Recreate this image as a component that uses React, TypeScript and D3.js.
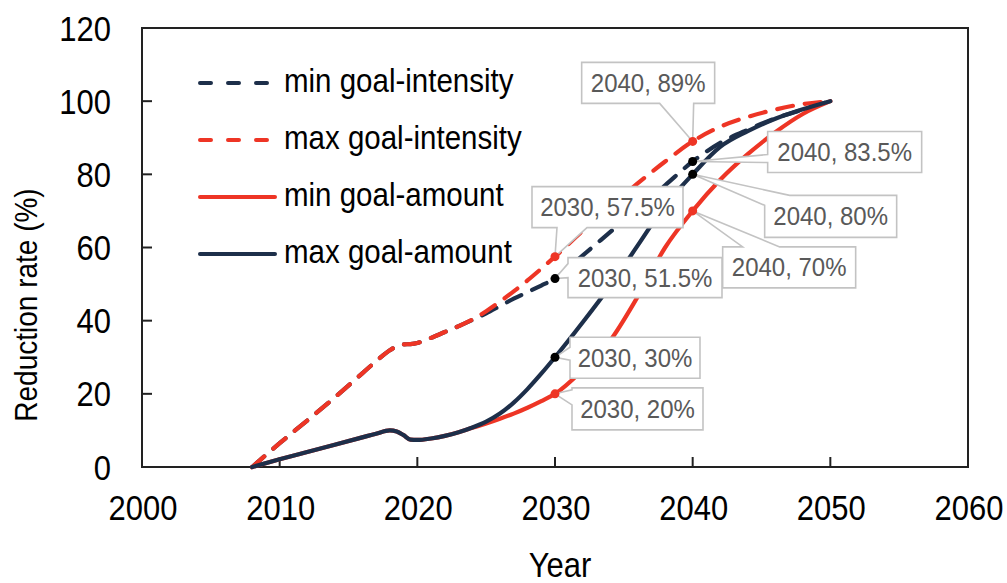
import React from 'react';
import * as d3 from 'd3';

// ---------------- data ----------------
const years = [2008, 2010, 2012, 2014, 2016, 2017, 2018, 2018.5, 2019, 2019.5, 2020, 2021, 2022, 2023, 2024, 2025, 2026, 2027, 2028, 2029, 2030, 2032, 2034, 2036, 2038, 2040, 2042, 2044, 2046, 2048, 2050];
const minGoalIntensity = [0, 6.5, 12.7, 19, 25.6, 28.9, 31.9, 33, 33.5, 33.6, 33.9, 35.3, 36.9, 38.5, 40.2, 42, 44, 46, 47.8, 49.6, 51.5, 57.8, 64.2, 70.6, 77, 83.5, 88.6, 92.2, 95.3, 97.7, 100];
const maxGoalIntensity = [0, 6.5, 12.7, 19, 25.6, 28.9, 31.9, 33, 33.5, 33.6, 33.9, 35.3, 36.9, 38.5, 40.3, 42.6, 45.2, 48, 51, 54.2, 57.5, 64.5, 71, 77.5, 83.5, 89, 93, 95.7, 97.7, 99.2, 100];
const minGoalAmount = [0, 2.1, 4.1, 6.1, 8.1, 9.1, 10, 9.7, 8.7, 7.5, 7.4, 7.8, 8.5, 9.5, 10.7, 11.9, 13.2, 14.6, 16.2, 18, 20, 26.5, 34.5, 46.5, 60, 70, 78.5, 85.5, 91.5, 96.5, 100];
const maxGoalAmount = [0, 2.1, 4.1, 6.1, 8.1, 9.1, 10, 9.7, 8.7, 7.5, 7.4, 7.8, 8.5, 9.5, 10.8, 12.4, 14.6, 17.6, 21.3, 25.5, 30, 39.5, 49.5, 60.5, 71.5, 80, 87.5, 91.8, 95.2, 97.8, 100];

const seriesNames = ['min goal-intensity', 'max goal-intensity', 'min goal-amount', 'max goal-amount'];
const xTicks = [2000, 2010, 2020, 2030, 2040, 2050, 2060];
const yTicks = [0, 20, 40, 60, 80, 100, 120];

const calloutYears = [2040, 2040, 2040, 2040, 2030, 2030, 2030, 2030];
const calloutValues = [89, 83.5, 80, 70, 57.5, 51.5, 30, 20];
const calloutSeries = [1, 0, 3, 2, 1, 0, 3, 2];

// ---------------- styles / layout ----------------
const NAVY = '#1d2f4a';
const RED = '#ee3525';
const FONT = '"Liberation Sans", Arial, sans-serif';
const seriesStyle = [
  { color: NAVY, dash: '16,12', marker: '#000' },
  { color: RED, dash: '16,12', marker: RED },
  { color: RED, dash: null, marker: RED },
  { color: NAVY, dash: null, marker: '#000' },
];
// callout box geometry relative to its point: dx, dy, w, h, wedge base t1..t2 (perimeter positions)
const calloutLayout = [
  { dx: -111, dy: -79, w: 133, h: 41, t1: 195, t2: 229 },
  { dx: 75, dy: -30, w: 154, h: 41, t1: 359, t2: 367 },
  { dx: 72, dy: 21, w: 132, h: 42, t1: 338, t2: 373 },
  { dx: 30, dy: 36, w: 133, h: 41, t1: 20, t2: 57 },
  { dx: -23, dy: -70, w: 151, h: 41, t1: 288, t2: 318 },
  { dx: 13, dy: -21, w: 154, h: 40, t1: 368, t2: 382 },
  { dx: 15, dy: -20, w: 130, h: 41, t1: 319, t2: 332 },
  { dx: 17, dy: -6, w: 131, h: 42, t1: 329, t2: 344 },
];

const W = 1007, H = 583;
const L = 142, R = 968, T0 = 28, B = 467;

function calloutPath(bx: number, by: number, w: number, h: number, t1: number, t2: number, tip: [number, number]) {
  const P = 2 * w + 2 * h;
  const at = (t: number): [number, number] => {
    t = ((t % P) + P) % P;
    if (t <= w) return [bx + t, by];
    if (t <= w + h) return [bx + w, by + t - w];
    if (t <= 2 * w + h) return [bx + w - (t - w - h), by + h];
    return [bx, by + h - (t - 2 * w - h)];
  };
  const corners = [0, w, w + h, 2 * w + h];
  const cs = [...corners, ...corners.map(c => c + P), ...corners.map(c => c + 2 * P)]
    .filter(c => c > t2 && c < t1 + P).sort((a, b) => a - b);
  const pts = [at(t2), ...cs.map(at), at(t1), tip];
  return 'M' + pts.map(p => `${p[0]},${p[1]}`).join('L') + 'Z';
}

const Txt = ({ x, y, size, anchor = 'middle', fill = '#000', sy = 1.12, rotate = 0, children }: any) => (
  <text transform={`translate(${x},${y}) rotate(${rotate}) scale(1,${sy})`} fontSize={size}
    textAnchor={anchor} fill={fill} fontFamily={FONT}>{children}</text>
);

export default function App() {
  const x = d3.scaleLinear().domain([2000, 2060]).range([L, R]);
  const y = d3.scaleLinear().domain([0, 120]).range([B, T0]);
  const allSeries = [minGoalIntensity, maxGoalIntensity, minGoalAmount, maxGoalAmount];
  const line = d3.line<[number, number]>().x(d => x(d[0])).y(d => y(d[1])).curve(d3.curveMonotoneX);
  const drawOrder = [0, 1, 2, 3];

  return (
    <svg width={W} height={H} style={{ position: 'absolute', left: 0, top: 0, background: '#fff' }}>
      <rect x={0} y={0} width={W} height={H} fill="#fff" />
      {/* frame */}
      <rect x={L} y={T0} width={R - L} height={B - T0} fill="none" stroke="#222" strokeWidth={2} />
      {yTicks.map(t => (
        <g key={'y' + t}>
          <line x1={L} x2={L + 10} y1={y(t)} y2={y(t)} stroke="#222" strokeWidth={2} />
          <Txt x={111} y={y(t) + 12.5} size={31} anchor="end" sy={1.15}>{t}</Txt>
        </g>
      ))}
      {xTicks.map(t => (
        <g key={'x' + t}>
          <line x1={x(t)} x2={x(t)} y1={B} y2={B - 10} stroke="#222" strokeWidth={2} />
          <Txt x={x(t) + 1} y={520} size={31} sy={1.15}>{t}</Txt>
        </g>
      ))}
      <Txt x={560} y={577} size={31} sy={1.12}>Year</Txt>
      <Txt x={37} y={305} size={28} sy={1.1} rotate={-90}>Reduction rate (%)</Txt>

      {/* series */}
      {drawOrder.map(i => {
        const pts = years.map((yr, k) => [yr, allSeries[i][k]] as [number, number]);
        const s = seriesStyle[i];
        return <path key={'s' + i} d={line(pts) || ''} fill="none" stroke={s.color} strokeWidth={4.2}
          strokeDasharray={s.dash || undefined} strokeLinecap="round" strokeLinejoin="round" />;
      })}

      {/* legend */}
      {seriesNames.map((name, i) => {
        const ly = 83 + i * 57;
        const s = seriesStyle[i];
        return (
          <g key={'l' + i}>
            <line x1={200} x2={275} y1={ly} y2={ly} stroke={s.color} strokeWidth={4}
              strokeDasharray={s.dash ? '11,17' : undefined} strokeLinecap="round" />
            <Txt x={284} y={ly + 9} size={29.5} anchor="start" sy={1.12}>{name}</Txt>
          </g>
        );
      })}

      {/* callouts */}
      {calloutYears.map((yr, i) => {
        const px = x(yr), py = y(calloutValues[i]);
        const c = calloutLayout[i];
        const bx = px + c.dx, by = py + c.dy;
        return (
          <g key={'c' + i}>
            <path d={calloutPath(bx, by, c.w, c.h, c.t1, c.t2, [px, py])} fill="#fff" stroke="#c3c3c3" strokeWidth={1.6} />
            <Txt x={bx + c.w / 2} y={by + c.h / 2 + 9} size={24} fill="#595959" sy={1.05}>{`${yr}, ${calloutValues[i]}%`}</Txt>
          </g>
        );
      })}
      {calloutYears.map((yr, i) => (
        <circle key={'m' + i} cx={x(yr)} cy={y(calloutValues[i])} r={4.5}
          fill={seriesStyle[calloutSeries[i]].marker} />
      ))}
    </svg>
  );
}
